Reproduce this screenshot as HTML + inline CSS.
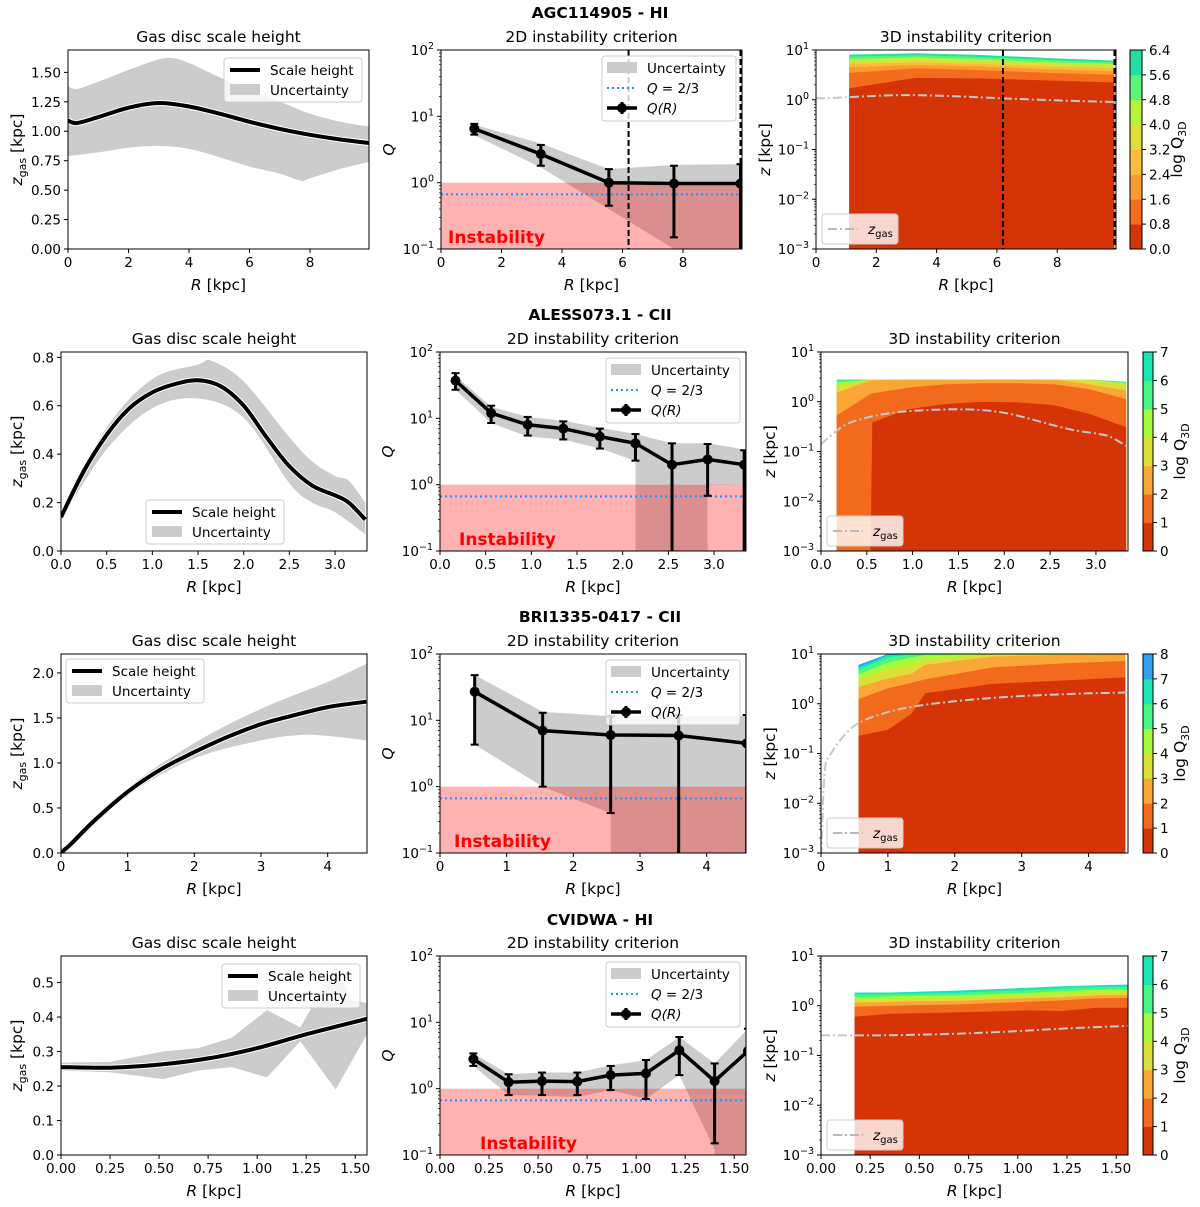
<!DOCTYPE html>
<html><head><meta charset="utf-8"><style>
html,body{margin:0;padding:0;background:#fff;width:1200px;height:1207px;overflow:hidden}
svg{display:block;font-family:"DejaVu Sans","Liberation Sans",sans-serif}
</style></head><body>
<svg id="fig" width="1200" height="1207" viewBox="0 0 1200 1207" xmlns="http://www.w3.org/2000/svg"></svg>
<script>
// ---------- DATA ----------
const rowTitles = ["AGC114905 - HI","ALESS073.1 - CII","BRI1335-0417 - CII","CVIDWA - HI"];
const xMaxes = [9.95, 3.35, 4.59, 1.56];
const xTicks = [[0,2,4,6,8],[0,0.5,1,1.5,2,2.5,3],[0,1,2,3,4],[0,0.25,0.5,0.75,1,1.25,1.5]];
const xDecimals = [0,1,0,2];
const zMaxes = [1.69, 0.822, 2.21, 0.577];
const zTicks = [[0,0.25,0.5,0.75,1,1.25,1.5],[0,0.2,0.4,0.6,0.8],[0,0.5,1,1.5,2],[0,0.1,0.2,0.3,0.4,0.5]];
const zDecimals = [2,1,1,1];
const smoothBand = [true,true,true,false];
// scale height curves
const zR1 = [0,0.3,1,2,3,4,5,6,7,8,9,9.95];
const zV1 = [1.09,1.07,1.12,1.2,1.24,1.21,1.15,1.08,1.02,0.97,0.93,0.9];
const zUR1 = [0,0.3,1,2,3,3.5,4,5,6,7,8,9,9.95];
const zU1 = [1.38,1.36,1.42,1.52,1.61,1.62,1.58,1.46,1.35,1.25,1.15,1.08,1.04];
const zLR1 = [0,1,2,3,4,5,6,7,7.7,8,9,9.95];
const zL1 = [0.79,0.82,0.86,0.875,0.85,0.78,0.7,0.64,0.58,0.6,0.68,0.74];
const zR2 = [0,0.25,0.5,0.75,1,1.25,1.5,1.75,2,2.25,2.5,2.75,3,3.15,3.33];
const zV2 = [0.14,0.33,0.48,0.59,0.655,0.69,0.705,0.68,0.6,0.47,0.35,0.27,0.23,0.2,0.13];
const zUR2 = [0,0.5,1,1.5,1.65,2,2.5,2.75,3,3.15,3.33];
const zU2 = [0.16,0.51,0.71,0.77,0.785,0.7,0.47,0.37,0.31,0.29,0.2];
const zLR2 = [0,0.5,1,1.5,2,2.5,2.75,3,3.33];
const zL2 = [0.13,0.42,0.59,0.63,0.55,0.28,0.2,0.16,0.07];
const zR3 = [0,0.05,0.15,0.5,1,1.5,2,2.5,3,3.5,4,4.58];
const zV3 = [0,0.035,0.1,0.36,0.68,0.93,1.12,1.29,1.43,1.53,1.62,1.68];
const zUR3 = [0,1,2,3,4,4.58];
const zU3 = [0,0.72,1.22,1.6,1.9,2.1];
const zLR3 = [0,1,2,3,3.6,4,4.58];
const zL3 = [0,0.64,1.05,1.25,1.31,1.3,1.25];
const zR4 = [0,0.25,0.5,0.75,1,1.25,1.56];
const zV4 = [0.255,0.253,0.262,0.28,0.31,0.35,0.395];
const zUR4 = [0,0.25,0.52,0.7,0.87,1.05,1.22,1.4,1.48,1.56];
const zU4 = [0.268,0.27,0.3,0.31,0.34,0.42,0.37,0.55,0.45,0.44];
const zLR4 = [0,0.25,0.52,0.7,0.87,1.05,1.22,1.4,1.56];
const zL4 = [0.245,0.24,0.22,0.245,0.255,0.225,0.33,0.19,0.35];
// 2D Q data
const qR1 = [1.1,3.3,5.55,7.7,9.9];
const qV1 = [6.5,2.7,1.0,0.97,0.97];
const qLo1 = [5.3,1.8,0.45,0.15,0.05];
const qHi1 = [7.7,3.7,1.6,1.8,1.9];
const bHi1 = [7.5,3.9,1.6,1.85,1.9];
const bLo1 = [5.2,1.7,0.4,0.1,0.05];
const qR2 = [0.17,0.56,0.96,1.35,1.75,2.14,2.54,2.93,3.33];
const qV2 = [37,12,8,7,5.3,4.2,2.0,2.4,2.0];
const qLo2 = [27,8.5,5.5,4.8,3.5,2.3,0.05,0.68,0.05];
const qHi2 = [48,15.5,10.5,9,7,5.8,4.2,4.1,3.3];
const bHi2 = [44,15,10.5,9.2,7.2,5.8,4.2,4.2,3.4];
const bLo2 = [27,8.5,5.3,4.8,3.5,2.3,0,0.98,1.0];
const qR3 = [0.52,1.54,2.56,3.58,4.6];
const qV3 = [27,7,6,5.9,4.5];
const qLo3 = [4.3,1.0,0.4,0.05,0.05];
const qHi3 = [48,13,11.5,12,12];
const bHi3 = [48,13.5,11.5,11.5,11.5];
const bLo3 = [4.3,1.0,0.4,0,0];
const qR4 = [0.17,0.35,0.52,0.7,0.87,1.05,1.22,1.4,1.57];
const qV4 = [2.8,1.25,1.3,1.28,1.6,1.7,3.8,1.3,3.7];
const qLo4 = [2.2,0.8,0.8,0.8,0.95,0.7,1.6,0.15,0.05];
const qHi4 = [3.4,1.65,1.75,1.75,2.2,2.7,6,2.4,8];
const bHi4 = [3.4,1.65,1.75,1.75,2.25,2.7,6,2.4,8];
const bLo4 = [2.2,0.8,0.78,0.75,0.95,0.7,1.6,0.12,0];
const dashedR1 = [6.2,9.9];
// 3D contour band tops (log10 z)
const cR1 = [1.1,3.3,5.5,7.7,9.9];
const cB1 = [[0.233,0.44,0.427,0.387,0.347],[0.54,0.633,0.593,0.54,0.5],[0.653,0.7,0.667,0.613,0.573],[0.72,0.753,0.72,0.667,0.633],[0.767,0.8,0.767,0.713,0.68],[0.82,0.847,0.813,0.753,0.72],[0.867,0.893,0.86,0.8,0.753],[0.907,0.933,0.9,0.84,0.787]];
const cR2 = [0.17,0.54,0.56,0.96,1.35,1.75,2.14,2.54,2.93,3.33];
const cB2 = [[-4,-4,-0.413,-0.147,-0.047,0,-0.013,-0.067,-0.247,-0.513],[-0.28,0.16,0.167,0.287,0.353,0.373,0.373,0.353,0.253,0.053],[0.18,0.43,0.433,0.447,0.447,0.447,0.447,0.447,0.353,0.22],[0.313,0.447,0.447,0.447,0.447,0.447,0.447,0.447,0.44,0.347],[0.38,0.447,0.447,0.447,0.447,0.447,0.447,0.447,0.447,0.373],[0.427,0.447,0.447,0.447,0.447,0.447,0.447,0.447,0.447,0.39],[0.447,0.447,0.447,0.447,0.447,0.447,0.447,0.447,0.447,0.4]];
const cR3 = [0.56,1.0,1.35,1.56,2.57,3.58,4.55];
const cB3 = [[-0.645,-0.525,-0.2,0.21,0.4,0.465,0.53],[0.09,0.31,0.42,0.49,0.73,0.81,0.86],[0.33,0.51,0.6,0.78,0.95,0.98,0.99],[0.48,0.69,0.8,0.89,1.05,1.05,1.05],[0.59,0.83,0.93,0.98,1.05,1.05,1.05],[0.68,0.93,1.05,1.05,1.05,1.05,1.05],[0.73,0.98,1.05,1.05,1.05,1.05,1.05],[0.78,1.05,1.05,1.05,1.05,1.05,1.05]];
const cR4 = [0.17,0.35,0.7,1.05,1.22,1.4,1.57];
const cB4 = [[-0.22,-0.16,-0.133,-0.093,-0.107,-0.04,-0.04],[-0.02,0,0.027,0.08,0.107,0.147,0.16],[0.06,0.08,0.1,0.15,0.17,0.21,0.22],[0.12,0.14,0.16,0.21,0.23,0.27,0.28],[0.17,0.19,0.21,0.26,0.29,0.32,0.33],[0.22,0.23,0.26,0.31,0.34,0.37,0.38],[0.267,0.267,0.307,0.36,0.393,0.413,0.427]];
const cbTicks = [[0,0.8,1.6,2.4,3.2,4.0,4.8,5.6,6.4],[0,1,2,3,4,5,6,7],[0,1,2,3,4,5,6,7,8],[0,1,2,3,4,5,6,7]];
const cbDecimals = [1,0,0,0];
const cbColors = [
 ['#d43406','#f56c1d','#fd9a30','#fbbc3b','#e0dc3a','#b5f33b','#5af577','#23dfa6'],
 ['#d43406','#f26a1c','#fba737','#dae037','#a4fc3c','#46f783','#1be5b5'],
 ['#d43406','#f26a1c','#fba737','#dae037','#a4fc3c','#46f783','#1be5b5','#30a0f0'],
 ['#d43406','#f26a1c','#fba737','#dae037','#a4fc3c','#46f783','#1be5b5']];

const Z = [[zR1,zV1,zUR1,zU1,zLR1,zL1],[zR2,zV2,zUR2,zU2,zLR2,zL2],[zR3,zV3,zUR3,zU3,zLR3,zL3],[zR4,zV4,zUR4,zU4,zLR4,zL4]];
const Q = [[qR1,qV1,qLo1,qHi1,bHi1,bLo1],[qR2,qV2,qLo2,qHi2,bHi2,bLo2],[qR3,qV3,qLo3,qHi3,bHi3,bLo3],[qR4,qV4,qLo4,qHi4,bHi4,bLo4]];
const C = [[cR1,cB1],[cR2,cB2],[cR3,cB3],[cR4,cB4]];

// ---------- LAYOUT ----------
const rows = [
 {top:50,bot:249,L:[68,369],M:[441,742],R:[816,1116],C:[1130,1142],sup:18},
 {top:352,bot:551,L:[61,367],M:[440,746],R:[821,1128],C:[1143,1153],sup:320},
 {top:654,bot:853,L:[61,367],M:[440,746],R:[821,1128],C:[1143,1153],sup:622},
 {top:956,bot:1155,L:[61,367],M:[440,746],R:[821,1128],C:[1143,1153],sup:925}];

const NS='http://www.w3.org/2000/svg';
const svg=document.getElementById('fig');
function mk(tag,attrs,parent){const e=document.createElementNS(NS,tag);for(const k in attrs)e.setAttribute(k,attrs[k]);(parent||svg).appendChild(e);return e;}
function txt(s,attrs,parent){const e=mk('text',attrs,parent);e.textContent=s;return e;}
function fmt(v,d){return v.toFixed(d);}
function supText(base,exp,attrs,parent){const e=mk('text',attrs,parent);const a=mk('tspan',{},e);a.textContent=base;const b=mk('tspan',{dy:-6,'font-size':9.5},e);b.textContent=exp;return e;}
function expStr(k){return k<0?'\u2212'+(-k):String(k);}
let clipId=0;
function clip(x0,x1,top,bot){const id='c'+(clipId++);const cp=mk('clipPath',{id:id});mk('rect',{x:x0,y:top,width:x1-x0,height:bot-top},cp);return 'url(#'+id+')';}
function polyPts(xs,ys){return xs.map((x,i)=>x.toFixed(1)+','+ys[i].toFixed(1)).join(' ');}
function straight(xs,ys,cont){return xs.map((x,i)=>((i===0&&!cont)?'M':'L')+x.toFixed(1)+','+ys[i].toFixed(1)).join(' ');}
function smooth(xs,ys,cont){let d=cont?'L':'M';d+=xs[0].toFixed(1)+','+ys[0].toFixed(1);
  for(let i=0;i<xs.length-1;i++){const i0=Math.max(i-1,0),i3=Math.min(i+2,xs.length-1);
    const c1x=xs[i]+(xs[i+1]-xs[i0])/6,c1y=ys[i]+(ys[i+1]-ys[i0])/6;
    const c2x=xs[i+1]-(xs[i3]-xs[i])/6,c2y=ys[i+1]-(ys[i3]-ys[i])/6;
    d+=' C'+c1x.toFixed(1)+','+c1y.toFixed(1)+' '+c2x.toFixed(1)+','+c2y.toFixed(1)+' '+xs[i+1].toFixed(1)+','+ys[i+1].toFixed(1);}
  return d;}

function xAxis(g,x0,x1,bot,xmax,ticks,dec){
  for(const t of ticks){const x=x0+t/xmax*(x1-x0);
    const tk=mk('line',{x1:x,x2:x,y1:bot,y2:bot+4,stroke:'#000','stroke-width':1},g);
    
    
    const l=txt(fmt(t,dec),{x:x,y:bot+18,'text-anchor':'middle','font-size':13.5},g);
    
    }
  const xl=mk('text',{x:(x0+x1)/2,y:bot+41,'text-anchor':'middle','font-size':15.5},g);
  
  
  const a=mk('tspan',{'font-style':'italic'},xl);a.textContent='R';const b=mk('tspan',{},xl);b.textContent=' [kpc]';
}
function logYAxis(g,x0,top,bot,lmin,lmax){
  const ys=v=>bot-(v-lmin)/(lmax-lmin)*(bot-top);
  for(let k=lmin;k<=lmax;k++){const y=ys(k);
    const tk=mk('line',{x1:x0-4,x2:x0,y1:y,y2:y,stroke:'#000'},g);
    
    
    const l=supText('10',expStr(k),{x:x0-7,y:y+5,'text-anchor':'end','font-size':13.5},g);
    
    
    if(k<lmax)for(let m=2;m<10;m++){const ym=ys(k+Math.log10(m));mk('line',{x1:x0-2,x2:x0,y1:ym,y2:ym,stroke:'#000','stroke-width':0.7},g);}
  }
}
function frame(g,x0,x1,top,bot){const f=mk('rect',{x:x0,y:top,width:x1-x0,height:bot-top,fill:'none',stroke:'#000','stroke-width':1},g);}

rows.forEach((rw,ri)=>{
  const xmax=xMaxes[ri];
  const st=txt(rowTitles[ri],{x:600,y:rw.sup,'text-anchor':'middle','font-size':15.5,'font-weight':'bold'});
  
  

  // ---- LEFT ----
  {const [x0,x1]=rw.L;const g=mk('g',{});
   
   
   const xs=v=>x0+v/xmax*(x1-x0);const ys=v=>rw.bot-v/zMaxes[ri]*(rw.bot-rw.top);
   const [R,V,UR,U,LR,L]=Z[ri];const cp=clip(x0,x1,rw.top,rw.bot);
   const fn=smoothBand[ri]?smooth:straight;
   const bd=fn(UR.map(xs),U.map(ys),false)+' '+fn(LR.map(xs).reverse(),L.map(ys).reverse(),true)+' Z';
   const band=mk('path',{d:bd,fill:'#cccccc','clip-path':cp},g);
   
   
   const ld=smooth(R.map(xs),V.map(ys),false);
   mk('path',{d:ld,fill:'none',stroke:'#fff','stroke-width':6,'clip-path':cp},g);
   const ln2=mk('path',{d:ld,fill:'none',stroke:'#000','stroke-width':4,'stroke-linejoin':'round','clip-path':cp},g);
   
   
   frame(g,x0,x1,rw.top,rw.bot);
   xAxis(g,x0,x1,rw.bot,xmax,xTicks[ri],xDecimals[ri]);
   for(const t of zTicks[ri]){const y=ys(t);mk('line',{x1:x0-4,x2:x0,y1:y,y2:y,stroke:'#000'},g);
     const l=txt(fmt(t,zDecimals[ri]),{x:x0-7,y:y+5,'text-anchor':'end','font-size':13.5},g);
     
     }
   const yl=mk('text',{transform:'translate(22,'+((rw.top+rw.bot)/2)+') rotate(-90)','text-anchor':'middle','font-size':15.5},g);
   
   
   const a=mk('tspan',{'font-style':'italic'},yl);a.textContent='z';const b=mk('tspan',{'font-size':11,dy:4},yl);b.textContent='gas';const c=mk('tspan',{dy:-4},yl);c.textContent=' [kpc]';
   const tt=txt('Gas disc scale height',{x:(x0+x1)/2,y:rw.top-8,'text-anchor':'middle','font-size':15.5},g);
   
   
   const legPos=[[224,58],[146,500],[66,659],[222,964]][ri];
   const lg=mk('g',{transform:'translate('+legPos[0]+','+legPos[1]+')'},g);
   
   
   mk('rect',{x:0,y:0,width:138,height:44,rx:3,fill:'#fff','fill-opacity':0.8,stroke:'#ccc'},lg);
   mk('line',{x1:6,x2:36,y1:12,y2:12,stroke:'#000','stroke-width':4},lg);
   txt('Scale height',{x:46,y:17,'font-size':13.5},lg);
   mk('rect',{x:6,y:26,width:30,height:11,fill:'#cccccc'},lg);
   txt('Uncertainty',{x:46,y:37,'font-size':13.5},lg);
  }

  // ---- MIDDLE ----
  {const [x0,x1]=rw.M;const g=mk('g',{});
   
   
   const xs=v=>x0+v/xmax*(x1-x0);
   const ys=v=>v<=0?rw.bot:Math.min(rw.bot+20,rw.bot-(Math.log10(v)+1)/3*(rw.bot-rw.top));
   const [R,V,Lo,Hi,BH,BL]=Q[ri];const cp=clip(x0,x1,rw.top,rw.bot);
   // lower edge: zero values drop vertically at the nearest positive neighbour
   const lx=[],ly=[];
   BL.forEach((v,i)=>{
     if(v>0){lx.push(xs(R[i]));ly.push(ys(v));}
     else{
       if(i>0&&BL[i-1]>0){lx.push(xs(R[i-1]));ly.push(rw.bot);}
       if(i<BL.length-1&&BL[i+1]>0){lx.push(xs(R[i+1]));ly.push(rw.bot);}
       else if(i===BL.length-1){lx.push(xs(R[i]));ly.push(rw.bot);}
     }});
   const band=mk('polygon',{points:polyPts(R.map(xs).concat(lx.slice().reverse()),BH.map(ys).concat(ly.slice().reverse())),fill:'rgb(0,0,0)','fill-opacity':0.2,'clip-path':cp},g);
   
   
   const inst=mk('rect',{x:x0,y:ys(1),width:x1-x0,height:rw.bot-ys(1),fill:'rgb(255,0,0)','fill-opacity':0.3},g);
   
   
   const q23=mk('line',{x1:x0,x2:x1,y1:ys(2/3),y2:ys(2/3),stroke:'#1e90ff','stroke-width':2,'stroke-dasharray':'2 3'},g);
   
   
   if(ri===0)for(const d of dashedR1){const dl=mk('line',{x1:xs(d),x2:xs(d),y1:rw.top,y2:rw.bot,stroke:'#000','stroke-width':2,'stroke-dasharray':'6 3'},g);}
   const ql=mk('polyline',{points:polyPts(R.map(xs),V.map(ys)),fill:'none',stroke:'#000','stroke-width':3.5,'clip-path':cp},g);
   
   
   R.forEach((r,i)=>{const x=xs(r);
     const eb=mk('line',{x1:x,x2:x,y1:ys(Lo[i]),y2:ys(Hi[i]),stroke:'#000','stroke-width':3,'clip-path':cp},g);
     
     
     mk('line',{x1:x-4,x2:x+4,y1:ys(Hi[i]),y2:ys(Hi[i]),stroke:'#000','stroke-width':2,'clip-path':cp},g);
     mk('line',{x1:x-4,x2:x+4,y1:ys(Lo[i]),y2:ys(Lo[i]),stroke:'#000','stroke-width':2,'clip-path':cp},g);
     const pt=mk('circle',{cx:x,cy:ys(V[i]),r:5,fill:'#000','clip-path':cp},g);
     
     });
   const it=txt('Instability',{x:x0+[7,19,14,40][ri],y:rw.bot-6,'font-size':17,'font-weight':'bold',fill:'#ff0000'},g);
   
   
   frame(g,x0,x1,rw.top,rw.bot);
   xAxis(g,x0,x1,rw.bot,xmax,xTicks[ri],xDecimals[ri]);
   logYAxis(g,x0,rw.top,rw.bot,-1,2);
   const yl=txt('Q',{x:0,y:0,transform:'translate('+(x0-47)+','+((rw.top+rw.bot)/2)+') rotate(-90)','text-anchor':'middle','font-size':15.5,'font-style':'italic'},g);
   
   
   const tt=txt('2D instability criterion',{x:(x0+x1)/2,y:rw.top-8,'text-anchor':'middle','font-size':15.5},g);
   
   
   const lg=mk('g',{transform:'translate('+(x1-140)+','+(rw.top+6)+')'},g);
   
   
   mk('rect',{x:0,y:0,width:134,height:65,rx:3,fill:'#fff','fill-opacity':0.8,stroke:'#ccc'},lg);
   mk('rect',{x:5,y:6,width:30,height:11,fill:'#cccccc'},lg);
   txt('Uncertainty',{x:45,y:17,'font-size':13.5},lg);
   mk('line',{x1:5,x2:35,y1:32,y2:32,stroke:'#1e90ff','stroke-width':2,'stroke-dasharray':'2 3'},lg);
   const l2=mk('text',{x:45,y:37,'font-size':13.5},lg);const q1=mk('tspan',{'font-style':'italic'},l2);q1.textContent='Q';const q2=mk('tspan',{},l2);q2.textContent=' = 2/3';
   mk('line',{x1:5,x2:35,y1:52,y2:52,stroke:'#000','stroke-width':3.5},lg);
   mk('line',{x1:20,x2:20,y1:46,y2:58,stroke:'#000','stroke-width':3},lg);
   mk('circle',{cx:20,cy:52,r:5,fill:'#000'},lg);
   txt('Q(R)',{x:45,y:57,'font-size':13.5,'font-style':'italic'},lg);
  }

  // ---- RIGHT ----
  {const [x0,x1]=rw.R;const g=mk('g',{});
   
   
   const xs=v=>x0+v/xmax*(x1-x0);
   const yl10=l=>rw.bot-(l+3)/4*(rw.bot-rw.top);
   const cp=clip(x0,x1,rw.top,rw.bot);
   const [CR,CB]=C[ri];const cols=cbColors[ri];
   for(let b=CB.length-1;b>=0;b--){
     const tops=CB[b].map(v=>Math.max(rw.top,Math.min(rw.bot,yl10(v))));
     const px=[xs(CR[0])].concat(CR.map(xs),[xs(CR[CR.length-1])]);
     const py=[rw.bot].concat(tops,[rw.bot]);
     const p=mk('polygon',{points:polyPts(px,py),fill:cols[b],'clip-path':cp},g);
     
     }
   const [R,V]=Z[ri];
   const zd=smooth(R.map(xs),V.map(v=>v>0?Math.min(rw.bot+20,yl10(Math.log10(v))):rw.bot+20),false);
   const zl=mk('path',{d:zd,fill:'none',stroke:'#c4c8cc','stroke-width':2,'stroke-dasharray':'9 3 2 3','clip-path':cp},g);
   
   
   if(ri===0)for(const d of dashedR1){const dl=mk('line',{x1:xs(d),x2:xs(d),y1:rw.top,y2:rw.bot,stroke:'#000','stroke-width':2,'stroke-dasharray':'6 3'},g);}
   frame(g,x0,x1,rw.top,rw.bot);
   xAxis(g,x0,x1,rw.bot,xmax,xTicks[ri],xDecimals[ri]);
   logYAxis(g,x0,rw.top,rw.bot,-3,1);
   const ylab=mk('text',{transform:'translate('+(x0-46)+','+((rw.top+rw.bot)/2)+') rotate(-90)','text-anchor':'middle','font-size':15.5},g);
   
   
   const a=mk('tspan',{'font-style':'italic'},ylab);a.textContent='z';const b2=mk('tspan',{},ylab);b2.textContent=' [kpc]';
   const tt=txt('3D instability criterion',{x:(x0+x1)/2,y:rw.top-8,'text-anchor':'middle','font-size':15.5},g);
   
   
   const lg=mk('g',{transform:'translate('+(x0+6)+','+(rw.bot-35)+')'},g);
   
   
   mk('rect',{x:0,y:0,width:76,height:30,rx:3,fill:'#fff','fill-opacity':0.8,stroke:'#ccc'},lg);
   mk('line',{x1:6,x2:36,y1:15,y2:15,stroke:'#b8b8b8','stroke-width':2,'stroke-dasharray':'9 3 2 3'},lg);
   const lt=mk('text',{x:46,y:20,'font-size':13.5},lg);const z1=mk('tspan',{'font-style':'italic'},lt);z1.textContent='z';const z2=mk('tspan',{'font-size':10,dy:3},lt);z2.textContent='gas';
   const [c0,c1]=rw.C;const ticks=cbTicks[ri];const n=cols.length;
   const cb=mk('g',{},g);
   
   
   for(let i=0;i<n;i++){const yT=rw.bot-(i+1)/n*(rw.bot-rw.top);mk('rect',{x:c0,y:yT,width:c1-c0,height:(rw.bot-rw.top)/n+0.5,fill:cols[i]},cb);}
   mk('rect',{x:c0,y:rw.top,width:c1-c0,height:rw.bot-rw.top,fill:'none',stroke:'#000'},cb);
   ticks.forEach((t,i)=>{const y=rw.bot-i/(ticks.length-1)*(rw.bot-rw.top);mk('line',{x1:c1,x2:c1+4,y1:y,y2:y,stroke:'#000'},cb);
     const l=txt(fmt(t,cbDecimals[ri]),{x:c1+7,y:y+5,'font-size':13.5},cb);
     
     });
   const cl=mk('text',{transform:'translate('+(c1+[40,32,32,32][ri])+','+((rw.top+rw.bot)/2)+') rotate(-90)','text-anchor':'middle','font-size':15.5},cb);
   
   
   const k1=mk('tspan',{},cl);k1.textContent='log Q';const k2=mk('tspan',{'font-size':11,dy:4},cl);k2.textContent='3D';
  }
});
</script>
</body></html>
